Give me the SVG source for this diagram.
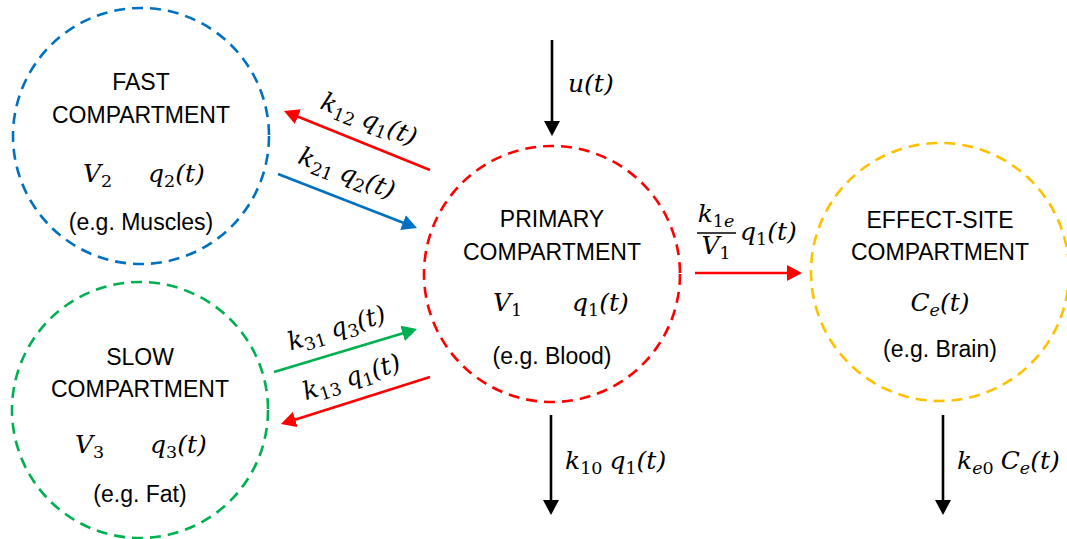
<svg xmlns="http://www.w3.org/2000/svg" width="1067" height="539" viewBox="0 0 1067 539">
<style>
.c{fill:none;stroke-width:2.6;stroke-dasharray:11 7}
.t{font-family:"Liberation Sans",Arial,sans-serif;font-size:23px;fill:#000;text-anchor:middle}
.m{font-family:"DejaVu Serif",serif;font-style:italic;font-size:25px;fill:#000}
.s{font-style:normal;font-size:17.5px}
.si{font-style:italic;font-size:17.5px}
.a{fill:none;stroke-width:2.6}
</style>
<defs>
<marker id="hk" markerUnits="userSpaceOnUse" markerWidth="16" markerHeight="16" refX="3" refY="8" orient="auto"><path d="M0,0 L15,8 L0,16 z" fill="#000"/></marker>
<marker id="hr" markerUnits="userSpaceOnUse" markerWidth="16" markerHeight="16" refX="3" refY="8" orient="auto"><path d="M0,0 L15,8 L0,16 z" fill="#ff0000"/></marker>
<marker id="hb" markerUnits="userSpaceOnUse" markerWidth="16" markerHeight="16" refX="3" refY="8" orient="auto"><path d="M0,0 L15,8 L0,16 z" fill="#0070c0"/></marker>
<marker id="hg" markerUnits="userSpaceOnUse" markerWidth="16" markerHeight="16" refX="3" refY="8" orient="auto"><path d="M0,0 L15,8 L0,16 z" fill="#00b050"/></marker>
</defs>
<rect width="1067" height="539" fill="#fff"/>

<g id="fast">
<circle class="c" cx="141" cy="136" r="128" stroke="#0070c0"/>
<text class="t" x="141" y="90">FAST</text>
<text class="t" x="141" y="123">COMPARTMENT</text>
<text class="m" x="83" y="182">V<tspan class="s" dy="5">2</tspan></text>
<text class="m" x="148" y="182">q<tspan class="s" dy="5">2</tspan><tspan dy="-5">(t)</tspan></text>
<text class="t" x="141" y="230">(e.g. Muscles)</text>
</g>

<g id="slow">
<circle class="c" cx="140" cy="410" r="128" stroke="#00b050"/>
<text class="t" x="140" y="365">SLOW</text>
<text class="t" x="140" y="397">COMPARTMENT</text>
<text class="m" x="75" y="453">V<tspan class="s" dy="5">3</tspan></text>
<text class="m" x="150" y="453">q<tspan class="s" dy="5">3</tspan><tspan dy="-5">(t)</tspan></text>
<text class="t" x="140" y="502">(e.g. Fat)</text>
</g>

<g id="primary">
<circle class="c" cx="552" cy="274" r="128" stroke="#ff0000"/>
<text class="t" x="552" y="227">PRIMARY</text>
<text class="t" x="552" y="260">COMPARTMENT</text>
<text class="m" x="493" y="311">V<tspan class="s" dy="5">1</tspan></text>
<text class="m" x="572" y="311">q<tspan class="s" dy="5">1</tspan><tspan dy="-5">(t)</tspan></text>
<text class="t" x="552" y="364">(e.g. Blood)</text>
</g>

<g id="effect">
<circle class="c" cx="940" cy="272" r="129" stroke="#ffc000"/>
<text class="t" x="940" y="228">EFFECT-SITE</text>
<text class="t" x="940" y="260">COMPARTMENT</text>
<text class="m" x="940" y="311" text-anchor="middle">C<tspan class="si" dy="5">e</tspan><tspan dy="-5">(t)</tspan></text>
<text class="t" x="940" y="357">(e.g. Brain)</text>
</g>

<g id="connectors">
<line class="a" x1="552" y1="40" x2="552" y2="124" stroke="#000" marker-end="url(#hk)"/>
<line class="a" x1="551" y1="415" x2="551" y2="503" stroke="#000" marker-end="url(#hk)"/>
<line class="a" x1="943" y1="415" x2="943" y2="503" stroke="#000" marker-end="url(#hk)"/>
<line class="a" x1="695" y1="273" x2="790" y2="273" stroke="#ff0000" marker-end="url(#hr)"/>
<line class="a" x1="430" y1="170" x2="295.1" y2="115.5" stroke="#ff0000" marker-end="url(#hr)"/>
<line class="a" x1="278" y1="174" x2="405.8" y2="223.7" stroke="#0070c0" marker-end="url(#hb)"/>
<line class="a" x1="274" y1="372" x2="405.5" y2="332.5" stroke="#00b050" marker-end="url(#hg)"/>
<line class="a" x1="430" y1="377" x2="292.4" y2="420.4" stroke="#ff0000" marker-end="url(#hr)"/>

<text class="m" x="568" y="92">u(t)</text>
<text class="m" x="565" y="469">k<tspan class="s" dy="5">10</tspan><tspan dx="7" dy="-5">q</tspan><tspan class="s" dy="5">1</tspan><tspan dy="-5">(t)</tspan></text>
<text class="m" x="957" y="469">k<tspan class="si" dy="5">e</tspan><tspan class="s">0</tspan><tspan dx="7" dy="-5">C</tspan><tspan class="si" dy="5">e</tspan><tspan dy="-5">(t)</tspan></text>

<text class="m" x="716" y="222" text-anchor="middle">k<tspan class="s" dy="5">1</tspan><tspan class="si">e</tspan></text>
<line x1="697" y1="233" x2="736" y2="233" stroke="#000" stroke-width="1.3"/>
<text class="m" x="716" y="254" text-anchor="middle">V<tspan class="s" dy="5">1</tspan></text>
<text class="m" x="740" y="240">q<tspan class="s" dy="5">1</tspan><tspan dy="-5">(t)</tspan></text>

<text class="m" text-anchor="middle" transform="translate(366,127) rotate(22)">k<tspan class="s" dy="5">12</tspan><tspan dx="7" dy="-5">q</tspan><tspan class="s" dy="5">1</tspan><tspan dy="-5">(t)</tspan></text>
<text class="m" text-anchor="middle" transform="translate(344,181) rotate(21)">k<tspan class="s" dy="5">21</tspan><tspan dx="7" dy="-5">q</tspan><tspan class="s" dy="5">2</tspan><tspan dy="-5">(t)</tspan></text>
<text class="m" text-anchor="middle" transform="translate(339,336) rotate(-16.7)">k<tspan class="s" dy="5">31</tspan><tspan dx="7" dy="-5">q</tspan><tspan class="s" dy="5">3</tspan><tspan dy="-5">(t)</tspan></text>
<text class="m" text-anchor="middle" transform="translate(354,385) rotate(-17.5)">k<tspan class="s" dy="5">13</tspan><tspan dx="7" dy="-5">q</tspan><tspan class="s" dy="5">1</tspan><tspan dy="-5">(t)</tspan></text>
</g>
</svg>
